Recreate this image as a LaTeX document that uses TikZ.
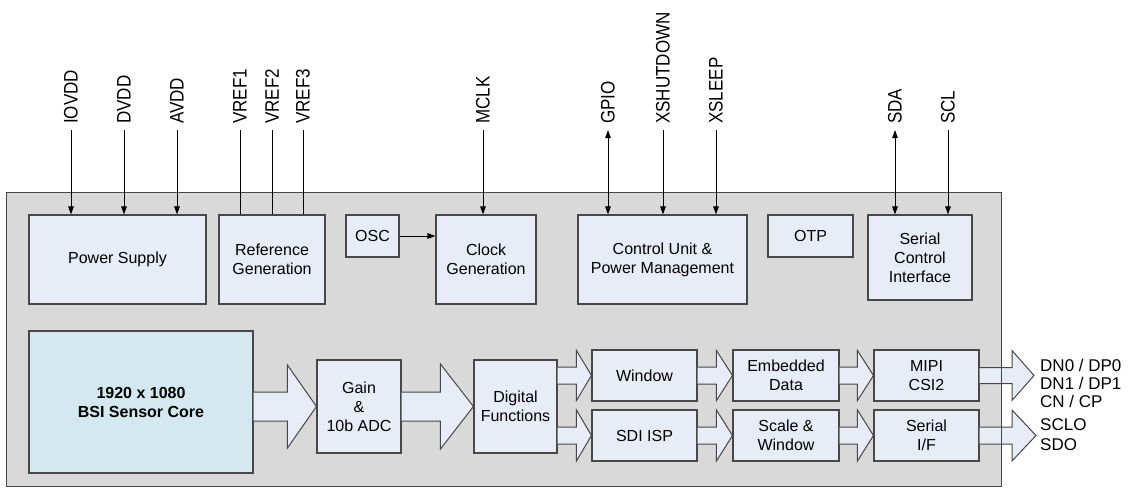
\documentclass[tikz,border=0pt]{standalone}
\usepackage{fontspec}
\setmainfont{Liberation Sans}
\usetikzlibrary{arrows.meta,calc}
\definecolor{framegray}{HTML}{D9D9D9}
\definecolor{boxfill}{HTML}{E7ECF6}
\definecolor{corefill}{HTML}{D3E9EF}
\definecolor{edgegray}{HTML}{474747}
\newcommand{\fatarrow}[5]{%
  \draw[fatarr] let \p1=(#1), \p2=(#2) in
    (\x1,\y2+#4) -- (\x2-#3,\y2+#4) -- (\x2-#3,\y2+#5) -- (\x2,\y2)
    -- (\x2-#3,\y2-#5) -- (\x2-#3,\y2-#4) -- (\x1,\y2-#4);}
\begin{document}
\begin{tikzpicture}[x=1pt,y=-1pt,
  blk/.style 2 args={draw=edgegray,line width=1.1pt,fill=boxfill,inner sep=0pt,
    minimum width=#1pt,minimum height=#2pt,align=center,
    font=\fontsize{16}{19}\selectfont},
  fatarr/.style={draw=edgegray,line width=1pt,fill=boxfill,line join=miter},
  sig/.style={line width=1pt,-{Triangle[length=8pt,width=5.5pt]}},
  bisig/.style={line width=1pt,{Triangle[length=8pt,width=5.5pt]}-{Triangle[length=8pt,width=5.5pt]}},
  plain/.style={line width=1pt},
  vlabel/.style={rotate=90,yscale=1.15,anchor=west,inner sep=0pt,
    font=\fontsize{17}{20}\selectfont},
  outtxt/.style={anchor=west,inner sep=0pt,align=left,
    font=\fontsize{17}{18}\selectfont}]
\useasboundingbox (0,0) rectangle (1132,488);
% chip background
\node[fill=framegray,minimum width=994pt,minimum height=293pt,inner sep=0pt] (chip) at (504,339.5) {};
% upper row
\node[blk={177}{89}] (ps) at (117.5,259.5) {Power Supply};
\node[blk={106}{89}] (ref) at (272,259.5) {Reference\\Generation};
\node[blk={53}{42}] (osc) at (372.5,236) {OSC};
\node[blk={100}{89}] (clk) at (486,259.5) {Clock\\Generation};
\node[blk={169}{89}] (cu) at (662.5,259.5) {Control Unit \&\\Power Management};
\node[blk={85}{42}] (otp) at (810.5,236) {OTP};
\node[blk={104}{85}] (sci) at (920,257.5) {Serial\\Control\\Interface};
% lower row
\node[blk={224}{142},fill=corefill,font=\fontsize{16}{19}\selectfont\bfseries] (core) at (141,402) {1920 x 1080\\BSI Sensor Core};
\node[blk={84}{93}] (gain) at (359,406.5) {Gain\\\&\\10b ADC};
\node[blk={83}{93}] (df) at (515.5,406.5) {Digital\\Functions};
\node[blk={105}{51}] (win) at (644.5,375.5) {Window};
\node[blk={105}{51}] (sdi) at (644.5,435.5) {SDI ISP};
\node[blk={106}{51}] (emb) at (786,375.5) {Embedded\\Data};
\node[blk={106}{51}] (scw) at (786,435.5) {Scale \&\\Window};
\node[blk={105}{51}] (mipi) at (926.5,375.5) {MIPI\\CSI2};
\node[blk={105}{51}] (ser) at (926.5,435.5) {Serial\\I/F};
% fat arrows
\fatarrow{core.east}{gain.west}{29pt}{14.5pt}{41.5pt}
\fatarrow{gain.east}{df.west}{33pt}{14.5pt}{42.5pt}
\fatarrow{df.east}{win.west}{15pt}{8.5pt}{25pt}
\fatarrow{df.east}{sdi.west}{15pt}{8.5pt}{25.5pt}
\fatarrow{win.east}{emb.west}{16pt}{8.5pt}{25pt}
\fatarrow{sdi.east}{scw.west}{16pt}{8.5pt}{25.5pt}
\fatarrow{emb.east}{mipi.west}{16pt}{8.5pt}{25pt}
\fatarrow{scw.east}{ser.west}{16pt}{8.5pt}{25.5pt}
\coordinate (oA) at (1034,375.5);
\coordinate (oB) at (1036,435.5);
\fatarrow{mipi.east}{oA}{22pt}{8pt}{25pt}
\fatarrow{ser.east}{oB}{24pt}{8.5pt}{25.5pt}
% chip border on top
\draw[draw=edgegray,line width=1.1pt] (chip.north west) rectangle (chip.south east);
% output labels
\node[outtxt] (txtA) at (1040,383) {DN0 / DP0\\DN1 / DP1\\CN / CP};
\node[outtxt,font=\fontsize{17}{20}\selectfont] (txtB) at (1040,435) {SCLO\\SDO};
% internal connection
\draw[sig] (osc.east) -- (osc.east -| clk.west);
% top pins
\coordinate (pIOVDD) at (71,130);
\coordinate (pDVDD) at (124,130);
\coordinate (pAVDD) at (177,130);
\coordinate (pVREF1) at (240,130);
\coordinate (pVREF2) at (272,130);
\coordinate (pVREF3) at (303,130);
\coordinate (pMCLK) at (483,130);
\coordinate (pGPIO) at (608,130);
\coordinate (pXSHUTDOWN) at (663,130);
\coordinate (pXSLEEP) at (716,130);
\coordinate (pSDA) at (895,130);
\coordinate (pSCL) at (948,130);
\foreach \n/\x in {IOVDD/71,DVDD/124,AVDD/177,VREF1/240,VREF2/272,VREF3/303,MCLK/483,GPIO/608,XSHUTDOWN/663,XSLEEP/716,SDA/895,SCL/948}
  {\node[vlabel] (l\n) at (\x,124) {\n};}
\draw[sig] (pIOVDD) -- (pIOVDD |- ps.north);
\draw[sig] (pDVDD) -- (pDVDD |- ps.north);
\draw[sig] (pAVDD) -- (pAVDD |- ps.north);
\draw[plain] (pVREF1) -- (pVREF1 |- ref.north);
\draw[plain] (pVREF2) -- (pVREF2 |- ref.north);
\draw[plain] (pVREF3) -- (pVREF3 |- ref.north);
\draw[sig] (pMCLK) -- (pMCLK |- clk.north);
\draw[bisig] (pGPIO) -- (pGPIO |- cu.north);
\draw[sig] (pXSHUTDOWN) -- (pXSHUTDOWN |- cu.north);
\draw[sig] (pXSLEEP) -- (pXSLEEP |- cu.north);
\draw[bisig] (pSDA) -- (pSDA |- sci.north);
\draw[sig] (pSCL) -- (pSCL |- sci.north);
\end{tikzpicture}
\end{document}
